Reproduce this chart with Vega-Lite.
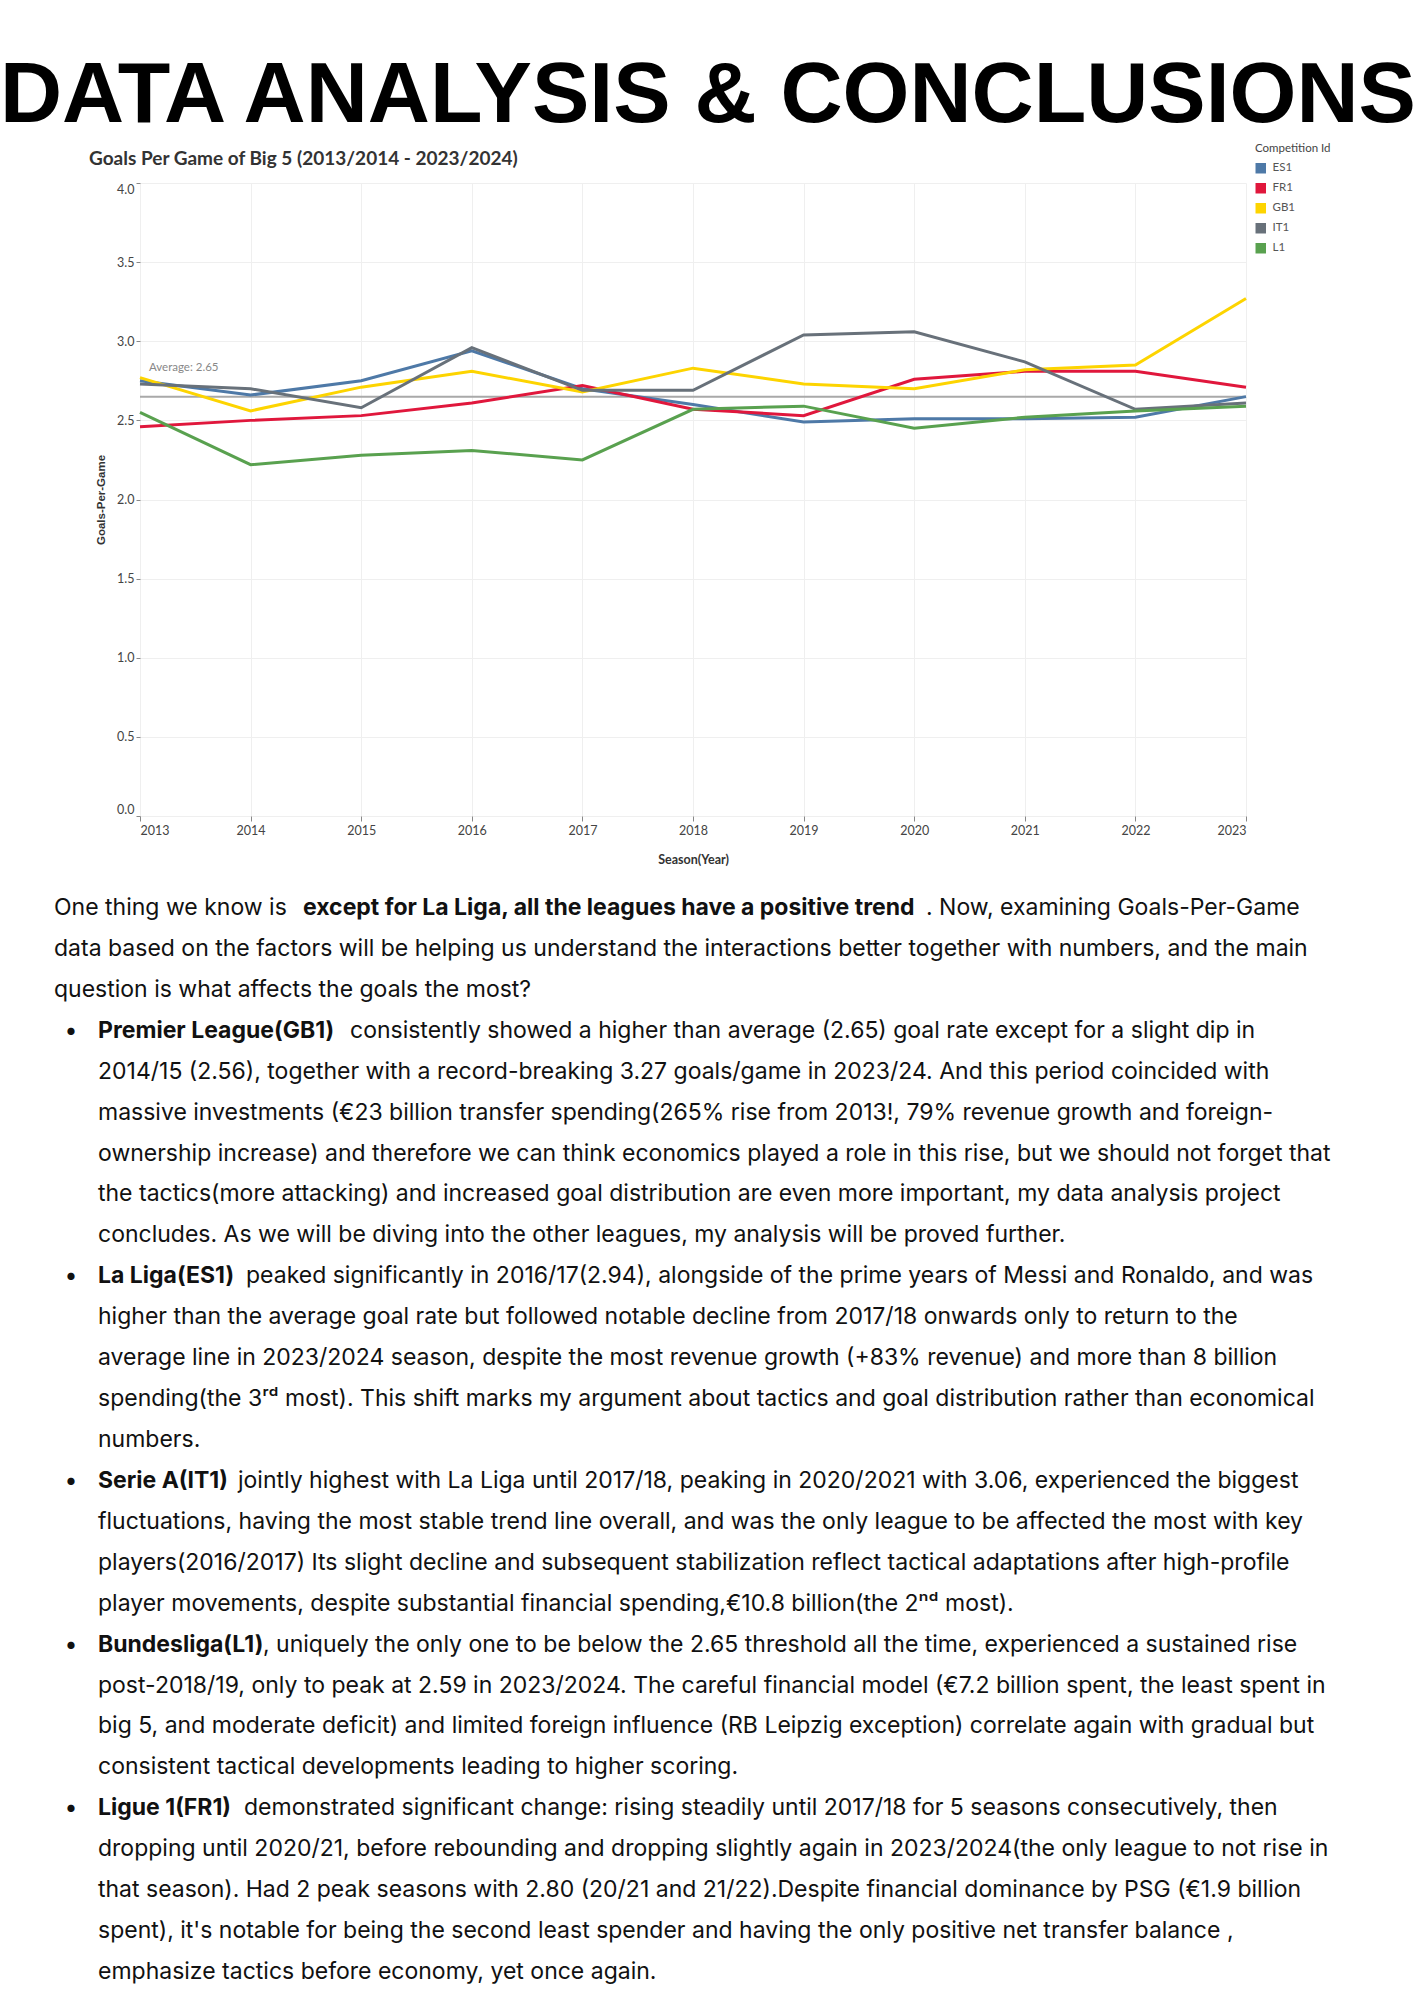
{
  "$schema": "https://vega.github.io/schema/vega-lite/v6.json",
  "background": "white",
  "padding": {"left": 0, "top": 53, "right": 0, "bottom": 0},
  "title": {
    "text": "DATA ANALYSIS & CONCLUSIONS",
    "anchor": "start",
    "frame": "bounds",
    "font": "Liberation Sans",
    "fontSize": 86,
    "fontWeight": "bold",
    "color": "#000000",
    "dx": -54,
    "offset": 3
  },
  "config": {"view": {"stroke": null}, "font": "Lato"},
  "spacing": 31,
  "vconcat": [
    {
      "width": 1106,
      "height": 633,
      "title": {
        "text": "Goals Per Game of Big 5 (2013/2014 - 2023/2024)",
        "anchor": "start",
        "frame": "group",
        "font": "Lato",
        "fontSize": 19,
        "fontWeight": "bold",
        "color": "#333333",
        "dx": -51,
        "offset": 14
      },
      "layer": [
        {
          "data": {"values": [{"avg": 2.65, "label": "Average: 2.65"}]},
          "mark": {"type": "rule", "color": "#a9a9a9", "strokeWidth": 2},
          "encoding": {"y": {"field": "avg", "type": "quantitative", "scale": {"domain": [0, 4], "nice": false}}}
        },
        {
          "data": {"values": [
            {"season": 2013, "competition": "ES1", "goals": 2.75},
            {"season": 2014, "competition": "ES1", "goals": 2.66},
            {"season": 2015, "competition": "ES1", "goals": 2.75},
            {"season": 2016, "competition": "ES1", "goals": 2.94},
            {"season": 2017, "competition": "ES1", "goals": 2.70},
            {"season": 2018, "competition": "ES1", "goals": 2.60},
            {"season": 2019, "competition": "ES1", "goals": 2.49},
            {"season": 2020, "competition": "ES1", "goals": 2.51},
            {"season": 2021, "competition": "ES1", "goals": 2.51},
            {"season": 2022, "competition": "ES1", "goals": 2.52},
            {"season": 2023, "competition": "ES1", "goals": 2.65},
            {"season": 2013, "competition": "FR1", "goals": 2.46},
            {"season": 2014, "competition": "FR1", "goals": 2.50},
            {"season": 2015, "competition": "FR1", "goals": 2.53},
            {"season": 2016, "competition": "FR1", "goals": 2.61},
            {"season": 2017, "competition": "FR1", "goals": 2.72},
            {"season": 2018, "competition": "FR1", "goals": 2.57},
            {"season": 2019, "competition": "FR1", "goals": 2.53},
            {"season": 2020, "competition": "FR1", "goals": 2.76},
            {"season": 2021, "competition": "FR1", "goals": 2.81},
            {"season": 2022, "competition": "FR1", "goals": 2.81},
            {"season": 2023, "competition": "FR1", "goals": 2.71},
            {"season": 2013, "competition": "GB1", "goals": 2.77},
            {"season": 2014, "competition": "GB1", "goals": 2.56},
            {"season": 2015, "competition": "GB1", "goals": 2.71},
            {"season": 2016, "competition": "GB1", "goals": 2.81},
            {"season": 2017, "competition": "GB1", "goals": 2.68},
            {"season": 2018, "competition": "GB1", "goals": 2.83},
            {"season": 2019, "competition": "GB1", "goals": 2.73},
            {"season": 2020, "competition": "GB1", "goals": 2.70},
            {"season": 2021, "competition": "GB1", "goals": 2.82},
            {"season": 2022, "competition": "GB1", "goals": 2.85},
            {"season": 2023, "competition": "GB1", "goals": 3.27},
            {"season": 2013, "competition": "IT1", "goals": 2.73},
            {"season": 2014, "competition": "IT1", "goals": 2.70},
            {"season": 2015, "competition": "IT1", "goals": 2.58},
            {"season": 2016, "competition": "IT1", "goals": 2.96},
            {"season": 2017, "competition": "IT1", "goals": 2.69},
            {"season": 2018, "competition": "IT1", "goals": 2.69},
            {"season": 2019, "competition": "IT1", "goals": 3.04},
            {"season": 2020, "competition": "IT1", "goals": 3.06},
            {"season": 2021, "competition": "IT1", "goals": 2.87},
            {"season": 2022, "competition": "IT1", "goals": 2.57},
            {"season": 2023, "competition": "IT1", "goals": 2.61},
            {"season": 2013, "competition": "L1", "goals": 2.55},
            {"season": 2014, "competition": "L1", "goals": 2.22},
            {"season": 2015, "competition": "L1", "goals": 2.28},
            {"season": 2016, "competition": "L1", "goals": 2.31},
            {"season": 2017, "competition": "L1", "goals": 2.25},
            {"season": 2018, "competition": "L1", "goals": 2.57},
            {"season": 2019, "competition": "L1", "goals": 2.59},
            {"season": 2020, "competition": "L1", "goals": 2.45},
            {"season": 2021, "competition": "L1", "goals": 2.52},
            {"season": 2022, "competition": "L1", "goals": 2.56},
            {"season": 2023, "competition": "L1", "goals": 2.59}
          ]},
          "mark": {"type": "line", "strokeWidth": 3},
          "encoding": {
            "x": {
              "field": "season", "type": "quantitative",
              "scale": {"domain": [2013, 2023], "nice": false, "zero": false},
              "axis": {
                "title": "Season(Year)",
                "values": [2013, 2014, 2015, 2016, 2017, 2018, 2019, 2020, 2021, 2022, 2023],
                "format": "d",
                "labelFlush": true,
                "grid": true, "gridColor": "#efefef",
                "domain": false,
                "tickColor": "#888888", "tickSize": 5,
                "labelFont": "Lato", "labelFontSize": 12.5, "labelColor": "#444444", "labelPadding": 3,
                "titleFont": "Lato", "titleFontSize": 12.5, "titleFontWeight": "bold", "titleColor": "#333333", "titlePadding": 17
              }
            },
            "y": {
              "field": "goals", "type": "quantitative",
              "scale": {"domain": [0, 4], "nice": false},
              "axis": {
                "title": "Goals-Per-Game",
                "values": [0, 0.5, 1, 1.5, 2, 2.5, 3, 3.5, 4],
                "format": ".1f",
                "labelFlush": true,
                "grid": true, "gridColor": "#efefef",
                "domain": false,
                "tickColor": "#888888", "tickSize": 4,
                "labelFont": "Lato", "labelFontSize": 12.5, "labelColor": "#444444", "labelPadding": 2,
                "titleFont": "Liberation Sans", "titleFontSize": 11.5, "titleFontWeight": "bold", "titleColor": "#333333", "titlePadding": 10
              }
            },
            "color": {
              "field": "competition", "type": "nominal",
              "scale": {"domain": ["ES1", "FR1", "GB1", "IT1", "L1"], "range": ["#4e79a7", "#e0173c", "#fdd400", "#68717a", "#59a14f"]},
              "legend": {
                "title": "Competition Id",
                "orient": "none", "legendX": 1115, "legendY": -40,
                "symbolType": "square", "symbolSize": 110,
                "labelFont": "Lato", "labelFontSize": 11.5, "labelColor": "#555555", "labelOffset": 6,
                "titleFont": "Lato", "titleFontSize": 11.5, "titleFontWeight": "normal", "titleColor": "#444444", "titlePadding": 8,
                "rowPadding": 7,
                "encode": {"symbols": {"update": {"fill": {"scale": "color", "field": "value"}, "fillOpacity": {"value": 1}, "strokeWidth": {"value": 0}, "shape": {"value": "square"}}}}
              }
            }
          }
        },
        {
          "data": {"values": [{"avg": 2.65, "label": "Average: 2.65"}]},
          "mark": {"type": "text", "align": "left", "baseline": "middle", "dx": 9, "dy": -29, "font": "Lato", "fontSize": 11.5, "color": "#888888"},
          "encoding": {
            "x": {"datum": 2013, "type": "quantitative"},
            "y": {"field": "avg", "type": "quantitative"},
            "text": {"field": "label"}
          }
        }
      ]
    },
    {
      "width": 1220,
      "height": 1064,
      "data": {"values": [
        {"line": 1, "col": 0, "seg": "r", "text": "One thing we know is"},
        {"line": 1, "col": 0, "seg": "m", "text": "except for La Liga, all the leagues have a positive trend"},
        {"line": 1, "col": 0, "seg": "t", "text": ". Now, examining Goals-Per-Game"},
        {"line": 2, "col": 0, "seg": "r", "text": "data based on the factors will be helping us understand the interactions better together with numbers, and the main"},
        {"line": 3, "col": 0, "seg": "r", "text": "question is what affects the goals the most?"},
        {"line": 4, "col": 1, "seg": "d", "text": "•"},
        {"line": 4, "col": 2, "seg": "b", "text": "Premier League(GB1)"},
        {"line": 4, "col": 2, "seg": "t", "text": "consistently showed a higher than average (2.65) goal rate except for a slight dip in"},
        {"line": 5, "col": 2, "seg": "r", "text": "2014/15 (2.56), together with a record-breaking 3.27 goals/game in 2023/24. And this period coincided with"},
        {"line": 6, "col": 2, "seg": "r", "text": "massive investments (€23 billion transfer spending(265% rise from 2013!, 79% revenue growth and foreign-"},
        {"line": 7, "col": 2, "seg": "r", "text": "ownership increase) and therefore we can think economics played a role in this rise, but we should not forget that"},
        {"line": 8, "col": 2, "seg": "r", "text": "the tactics(more attacking) and increased goal distribution are even more important, my data analysis project"},
        {"line": 9, "col": 2, "seg": "r", "text": "concludes. As we will be diving into the other leagues, my analysis will be proved further."},
        {"line": 10, "col": 1, "seg": "d", "text": "•"},
        {"line": 10, "col": 2, "seg": "b", "text": "La Liga(ES1)"},
        {"line": 10, "col": 2, "seg": "t", "text": "peaked significantly in 2016/17(2.94), alongside of the prime years of Messi and Ronaldo, and was"},
        {"line": 11, "col": 2, "seg": "r", "text": "higher than the average goal rate but followed notable decline from 2017/18 onwards only to return to the"},
        {"line": 12, "col": 2, "seg": "r", "text": "average line in 2023/2024 season, despite the most revenue growth (+83% revenue) and more than 8 billion"},
        {"line": 13, "col": 2, "seg": "r", "text": "spending(the 3ʳᵈ most). This shift marks my argument about tactics and goal distribution rather than economical"},
        {"line": 14, "col": 2, "seg": "r", "text": "numbers."},
        {"line": 15, "col": 1, "seg": "d", "text": "•"},
        {"line": 15, "col": 2, "seg": "b", "text": "Serie A(IT1)"},
        {"line": 15, "col": 2, "seg": "t", "text": "jointly highest with La Liga until 2017/18, peaking in 2020/2021 with 3.06, experienced the biggest"},
        {"line": 16, "col": 2, "seg": "r", "text": "fluctuations, having the most stable trend line overall, and was the only league to be affected the most with key"},
        {"line": 17, "col": 2, "seg": "r", "text": "players(2016/2017) Its slight decline and subsequent stabilization reflect tactical adaptations after high-profile"},
        {"line": 18, "col": 2, "seg": "r", "text": "player movements, despite substantial financial spending,€10.8 billion(the 2ⁿᵈ most)."},
        {"line": 19, "col": 1, "seg": "d", "text": "•"},
        {"line": 19, "col": 2, "seg": "b", "text": "Bundesliga(L1)"},
        {"line": 19, "col": 2, "seg": "t", "text": ", uniquely the only one to be below the 2.65 threshold all the time, experienced a sustained rise"},
        {"line": 20, "col": 2, "seg": "r", "text": "post-2018/19, only to peak at 2.59 in 2023/2024. The careful financial model (€7.2 billion spent, the least spent in"},
        {"line": 21, "col": 2, "seg": "r", "text": "big 5, and moderate deficit) and limited foreign influence (RB Leipzig exception) correlate again with gradual but"},
        {"line": 22, "col": 2, "seg": "r", "text": "consistent tactical developments leading to higher scoring."},
        {"line": 23, "col": 1, "seg": "d", "text": "•"},
        {"line": 23, "col": 2, "seg": "b", "text": "Ligue 1(FR1)"},
        {"line": 23, "col": 2, "seg": "t", "text": "demonstrated significant change: rising steadily until 2017/18 for 5 seasons consecutively, then"},
        {"line": 24, "col": 2, "seg": "r", "text": "dropping until 2020/21, before rebounding and dropping slightly again in 2023/2024(the only league to not rise in"},
        {"line": 25, "col": 2, "seg": "r", "text": "that season). Had 2 peak seasons with 2.80 (20/21 and 21/22).Despite financial dominance by PSG (€1.9 billion"},
        {"line": 26, "col": 2, "seg": "r", "text": "spent), it's notable for being the second least spender and having the only positive net transfer balance ,"},
        {"line": 27, "col": 2, "seg": "r", "text": "emphasize tactics before economy, yet once again."}
      ]},
      "encoding": {
        "y": {"field": "line", "type": "quantitative", "scale": {"domain": [1, 27], "range": [0, 1064]}, "axis": null},
        "x": {"field": "col", "type": "quantitative", "scale": {"domain": [0, 1, 2], "range": [-86, -69, -42]}, "axis": null},
        "text": {"field": "text"}
      },
      "layer": [
        {"transform": [{"filter": "datum.seg === 'r'"}], "mark": {"type": "text", "align": "left", "baseline": "middle", "font": "Inter", "fontSize": 23, "color": "#111111"}},
        {"transform": [{"filter": "datum.seg === 'b'"}], "mark": {"type": "text", "align": "left", "baseline": "middle", "font": "Inter", "fontSize": 23, "fontWeight": "bold", "color": "#111111"}},
        {"transform": [{"filter": "datum.seg === 'm'"}], "mark": {"type": "text", "align": "left", "baseline": "middle", "font": "Inter", "fontSize": 23, "fontWeight": "bold", "color": "#111111", "dx": 249}},
        {"transform": [{"filter": "datum.seg === 't' && datum.line === 1"}], "mark": {"type": "text", "align": "left", "baseline": "middle", "font": "Inter", "fontSize": 23, "color": "#111111", "dx": 872}},
        {"transform": [{"filter": "datum.seg === 't' && datum.line === 4"}], "mark": {"type": "text", "align": "left", "baseline": "middle", "font": "Inter", "fontSize": 23, "color": "#111111", "dx": 252}},
        {"transform": [{"filter": "datum.seg === 't' && datum.line === 10"}], "mark": {"type": "text", "align": "left", "baseline": "middle", "font": "Inter", "fontSize": 23, "color": "#111111", "dx": 148}},
        {"transform": [{"filter": "datum.seg === 't' && datum.line === 15"}], "mark": {"type": "text", "align": "left", "baseline": "middle", "font": "Inter", "fontSize": 23, "color": "#111111", "dx": 140}},
        {"transform": [{"filter": "datum.seg === 't' && datum.line === 19"}], "mark": {"type": "text", "align": "left", "baseline": "middle", "font": "Inter", "fontSize": 23, "color": "#111111", "dx": 165}},
        {"transform": [{"filter": "datum.seg === 't' && datum.line === 23"}], "mark": {"type": "text", "align": "left", "baseline": "middle", "font": "Inter", "fontSize": 23, "color": "#111111", "dx": 146}},
        {"transform": [{"filter": "datum.seg === 'd'"}], "mark": {"type": "text", "align": "center", "baseline": "middle", "font": "Inter", "fontSize": 23, "color": "#111111"}}
      ]
    }
  ]
}
